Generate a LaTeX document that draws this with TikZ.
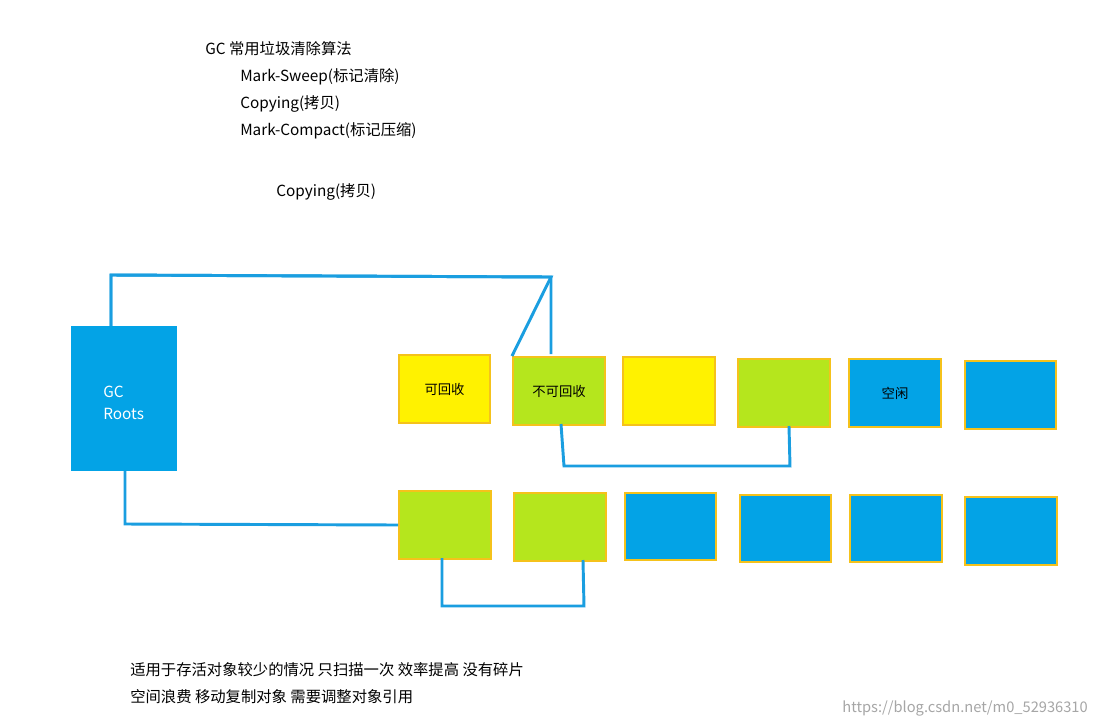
\documentclass[tikz,border=0pt]{standalone}
\usepackage{fontspec}
\setmainfont{Noto Sans CJK SC}
\begin{document}
\begin{tikzpicture}[x=0.75pt,y=-0.75pt,
  txt/.style={anchor=west,inner sep=0,font=\fontsize{11.5}{13}\selectfont},
  blk/.style={draw=boxedge,line width=1.5pt,inner sep=0,anchor=north west},
  wire/.style={draw=wireblue,line width=2.2pt}]
\definecolor{boxblue}{HTML}{03A3E6}
\definecolor{boxyel}{HTML}{FFF200}
\definecolor{boxgrn}{HTML}{B5E61D}
\definecolor{boxedge}{HTML}{F5C21B}
\definecolor{wireblue}{HTML}{1A9EE0}
\useasboundingbox[fill=white] (0,0) rectangle (1097,726);
\node[txt] (t1) at (205,49) {GC 常用垃圾清除算法};
\node[txt] (t2) at (240,77) {Mark-Sweep(标记清除)};
\node[txt] (t3) at (240,104) {Copying(拷贝)};
\node[txt] (t4) at (240,131) {Mark-Compact(标记压缩)};
\node[txt] (t5) at (276,192) {Copying(拷贝)};
\node[anchor=north west,fill=boxblue,minimum width=106*0.75pt,minimum height=145*0.75pt,inner sep=0] (roots) at (71,326) {};
\node[txt,text=white,align=left] (rl) at (103,403) {GC\\[3pt]Roots};
% top row
\node[blk,fill=boxyel,minimum width=91*0.75pt,minimum height=68*0.75pt] (a1) at (398,354) {可回收};
\node[blk,fill=boxgrn,minimum width=92*0.75pt,minimum height=68*0.75pt] (a2) at (512,356) {不可回收};
\node[blk,fill=boxyel,minimum width=92*0.75pt,minimum height=68*0.75pt] (a3) at (622,356) {};
\node[blk,fill=boxgrn,minimum width=92*0.75pt,minimum height=68*0.75pt] (a4) at (737,358) {};
\node[blk,fill=boxblue,minimum width=92*0.75pt,minimum height=68*0.75pt] (a5) at (848,358) {空闲};
\node[blk,fill=boxblue,minimum width=91*0.75pt,minimum height=68*0.75pt] (a6) at (964,360) {};
% bottom row
\node[blk,fill=boxgrn,minimum width=92*0.75pt,minimum height=68*0.75pt] (b1) at (398,490) {};
\node[blk,fill=boxgrn,minimum width=92*0.75pt,minimum height=68*0.75pt] (b2) at (513,492) {};
\node[blk,fill=boxblue,minimum width=91*0.75pt,minimum height=67*0.75pt] (b3) at (624,492) {};
\node[blk,fill=boxblue,minimum width=91*0.75pt,minimum height=67*0.75pt] (b4) at (739,494) {};
\node[blk,fill=boxblue,minimum width=92*0.75pt,minimum height=67*0.75pt] (b5) at (849,494) {};
\node[blk,fill=boxblue,minimum width=92*0.75pt,minimum height=68*0.75pt] (b6) at (964,496) {};
% wires
\coordinate (p1) at (111,275);
\coordinate (p2) at (551,277);
\draw[wire] (roots.north west) ++(40,0) |- (p1) -- (p2) -- (a2.north west) ++(39,0);
\draw[wire] (111,326) -- (111,275) -- (551,277) -- (551,354);
\coordinate (q1) at (564,466);
\coordinate (q2) at (790,466);
\draw[wire] (561,424) -- (q1) -- (q2) -- (789,426);
\coordinate (r1) at (125,524);
\draw[wire] (125,471) -- (r1) -- (b1.west);
\coordinate (s1) at (442,606);
\coordinate (s2) at (584,606);
\draw[wire] (442,558) -- (s1) -- (s2) -- (583,560);
\node[txt] (n1) at (130,670) {适用于存活对象较少的情况 只扫描一次 效率提高 没有碎片};
\node[txt] (n2) at (130,697) {空间浪费 移动复制对象 需要调整对象引用};
\node[anchor=east,inner sep=0,text=gray!70,font=\fontsize{11}{13}\selectfont] (wm) at (1088,708) {https://blog.csdn.net/m0\_52936310};
\end{tikzpicture}
\end{document}
